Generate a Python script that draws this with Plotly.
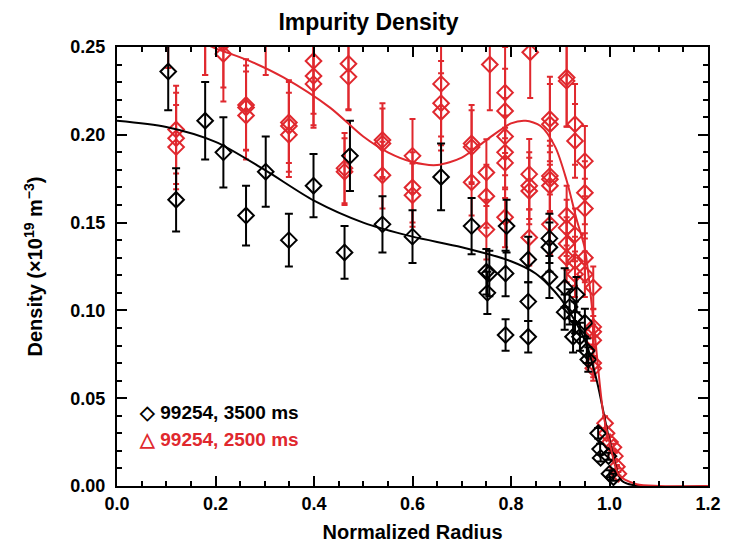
import plotly.graph_objects as go

# ---- black series: 99254, 3500 ms ----
blk_x = [0.104, 0.120, 0.179, 0.216, 0.262, 0.302, 0.349, 0.399, 0.462, 0.473,
         0.539, 0.600, 0.658, 0.720, 0.750, 0.756, 0.752, 0.789, 0.789, 0.791,
         0.835, 0.835, 0.835, 0.878, 0.878, 0.878, 0.909, 0.909, 0.919, 0.926,
         0.930, 0.933, 0.940, 0.950, 0.954, 0.957, 0.977, 0.981, 0.982, 0.998,
         1.000, 1.008]
blk_y = [0.236, 0.163, 0.208, 0.190, 0.154, 0.179, 0.140, 0.171, 0.133, 0.188,
         0.149, 0.142, 0.176, 0.148, 0.122, 0.121, 0.110, 0.121, 0.086, 0.148,
         0.129, 0.105, 0.085, 0.141, 0.136, 0.119, 0.113, 0.099, 0.102, 0.085,
         0.096, 0.109, 0.085, 0.093, 0.077, 0.072, 0.030, 0.021, 0.016, 0.017,
         0.007, 0.005]
blk_err = [0.022, 0.018, 0.022, 0.020, 0.017, 0.020, 0.015, 0.018, 0.015, 0.020,
           0.016, 0.015, 0.019, 0.016, 0.013, 0.013, 0.012, 0.013, 0.009, 0.015,
           0.013, 0.011, 0.009, 0.014, 0.014, 0.012, 0.011, 0.010, 0.010, 0.009,
           0.009, 0.010, 0.008, 0.008, 0.007, 0.007, 0.003, 0.003, 0.002, 0.002,
           0.002, 0.002]

# ---- red series: 99254, 2500 ms ----
red_x = [0.104, 0.120, 0.120, 0.120, 0.179, 0.179, 0.216, 0.216, 0.262, 0.262,
         0.262, 0.302, 0.349, 0.349, 0.349, 0.399, 0.399, 0.399, 0.470, 0.470,
         0.462, 0.462, 0.539, 0.539, 0.539, 0.600, 0.600, 0.600, 0.658, 0.658,
         0.658, 0.720, 0.720, 0.720, 0.757, 0.750, 0.750, 0.750, 0.788, 0.788,
         0.788, 0.788, 0.788, 0.788, 0.839, 0.837, 0.837, 0.837, 0.837, 0.879,
         0.879, 0.879, 0.879, 0.879, 0.879, 0.913, 0.913, 0.913, 0.913, 0.913,
         0.913, 0.930, 0.930, 0.930, 0.930, 0.930, 0.950, 0.950, 0.950, 0.950,
         0.950, 0.967, 0.967, 0.967, 0.967, 0.967, 0.967, 0.991, 0.994, 1.001,
         1.008, 1.011, 1.015, 1.018]
red_y = [0.262, 0.203, 0.198, 0.193, 0.258, 0.263, 0.246, 0.252, 0.217, 0.2155,
         0.211, 0.258, 0.207, 0.205, 0.200, 0.242, 0.2335, 0.229, 0.2405, 0.233,
         0.181, 0.179, 0.197, 0.195, 0.177, 0.188, 0.170, 0.1656, 0.229, 0.218,
         0.213, 0.195, 0.193, 0.173, 0.240, 0.1785, 0.165, 0.146, 0.224, 0.2136,
         0.199, 0.190, 0.184, 0.153, 0.247, 0.1776, 0.171, 0.168, 0.1415, 0.209,
         0.206, 0.1766, 0.1747, 0.171, 0.149, 0.2326, 0.2307, 0.154, 0.147, 0.138,
         0.130, 0.206, 0.1965, 0.143, 0.128, 0.1206, 0.185, 0.167, 0.158, 0.130,
         0.1206, 0.113, 0.0906, 0.0878, 0.083, 0.070, 0.067, 0.0357, 0.030, 0.025,
         0.022, 0.017, 0.011, 0.007]
red_err = [0.024, 0.025, 0.026, 0.024, 0.024, 0.029, 0.027, 0.025, 0.026, 0.024,
           0.025, 0.024, 0.023, 0.026, 0.024, 0.030, 0.028, 0.025, 0.026, 0.019,
           0.020, 0.019, 0.021, 0.020, 0.019, 0.021, 0.020, 0.018, 0.030, 0.024,
           0.022, 0.022, 0.021, 0.019, 0.026, 0.019, 0.018, 0.017, 0.026, 0.024,
           0.022, 0.021, 0.020, 0.017, 0.026, 0.020, 0.019, 0.019, 0.016, 0.024,
           0.023, 0.020, 0.019, 0.019, 0.017, 0.028, 0.026, 0.017, 0.016, 0.015,
           0.014, 0.023, 0.021, 0.015, 0.014, 0.013, 0.020, 0.018, 0.017, 0.014,
           0.013, 0.012, 0.010, 0.009, 0.009, 0.008, 0.007, 0.004, 0.003, 0.003,
           0.002, 0.002, 0.001, 0.001]

# ---- fitted profiles ----
blk_fit_x = [0.0, 0.1, 0.2, 0.3, 0.4, 0.5, 0.6, 0.7, 0.8, 0.85, 0.9, 0.95,
             0.975, 1.0, 1.025, 1.06, 1.2]
blk_fit_y = [0.208, 0.2045, 0.196, 0.180, 0.1625, 0.150, 0.142, 0.136, 0.128, 0.121,
             0.107, 0.083, 0.059, 0.026, 0.003, 0.0, 0.0]

red_fit_x = [0.0, 0.1, 0.196, 0.270, 0.338, 0.4325, 0.5, 0.55, 0.6, 0.65, 0.7, 0.75,
             0.8, 0.83, 0.86, 0.89, 0.913, 0.933, 0.95, 0.967, 0.987, 1.0, 1.02,
             1.055, 1.1, 1.2]
red_fit_y = [0.270, 0.262, 0.2497, 0.242, 0.2327, 0.2155, 0.199, 0.190, 0.1845, 0.1828,
             0.187, 0.197, 0.2065, 0.208, 0.205, 0.193, 0.174, 0.152, 0.135, 0.095,
             0.042, 0.025, 0.006, 0.001, 0.0, 0.0]

RED = "#E0282E"
FONT = "Liberation Sans, Arial, sans-serif"

fig = go.Figure()

fig.add_trace(go.Scatter(
    x=red_x, y=red_y, mode="markers",
    marker=dict(symbol="diamond-open", size=12, color=RED, line=dict(width=2, color=RED)),
    error_y=dict(type="data", array=red_err, color=RED, thickness=2, width=3),
    showlegend=False))
fig.add_trace(go.Scatter(
    x=blk_x, y=blk_y, mode="markers",
    marker=dict(symbol="diamond-open", size=12, color="black", line=dict(width=2, color="black")),
    error_y=dict(type="data", array=blk_err, color="black", thickness=2, width=4),
    showlegend=False))
fig.add_trace(go.Scatter(
    x=blk_fit_x, y=blk_fit_y, mode="lines",
    line=dict(color="black", width=2, shape="spline", smoothing=0.8),
    showlegend=False))
fig.add_trace(go.Scatter(
    x=red_fit_x, y=red_fit_y, mode="lines",
    line=dict(color=RED, width=2, shape="spline", smoothing=0.8),
    showlegend=False))

# legend text (IDL-style)
fig.add_annotation(x=0.034, y=0.168, xref="paper", yref="paper", xanchor="left", yanchor="middle",
                   showarrow=False, text="◇ 99254, 3500 ms",
                   font=dict(family=FONT, size=19, color="black", weight="bold"))
fig.add_annotation(x=0.034, y=0.107, xref="paper", yref="paper", xanchor="left", yanchor="middle",
                   showarrow=False, text="△ 99254, 2500 ms",
                   font=dict(family=FONT, size=19, color=RED, weight="bold"))

axis_common = dict(
    showline=True, linecolor="black", linewidth=2, mirror="ticks",
    ticks="inside", ticklen=10, tickwidth=2, tickcolor="black",
    showgrid=False, zeroline=False, automargin=False,
    tickfont=dict(family=FONT, size=18, color="black", weight="bold"),
)

# page has an 8px body margin, so the figure is slightly smaller than the window
fig.update_layout(
    width=721, height=541,
    paper_bgcolor="white", plot_bgcolor="white",
    margin=dict(l=109, r=21, t=39, b=63),
    title=dict(text="<b>Impurity Density</b>", x=0.5, xref="container", xanchor="center",
               y=0.99, yref="container", yanchor="top",
               font=dict(family=FONT, size=23, color="black")),
    xaxis=dict(range=[0, 1.2], dtick=0.2, tickformat=".1f",
               minor=dict(dtick=0.05, ticks="inside", ticklen=5, tickwidth=2, tickcolor="black"),
               title=dict(text="<b>Normalized Radius</b>", standoff=12,
                          font=dict(family=FONT, size=20, color="black")),
               **axis_common),
    yaxis=dict(range=[0, 0.25], dtick=0.05, tickformat=".2f", ticklabelstandoff=6,
               minor=dict(dtick=0.01, ticks="inside", ticklen=5, tickwidth=2, tickcolor="black"),
               title=dict(text="<b>Density (×10<sup>19</sup> m<sup>−3</sup>)</b>", standoff=22,
                          font=dict(family=FONT, size=20, color="black")),
               **axis_common),
)

fig.write_html("out.html")
